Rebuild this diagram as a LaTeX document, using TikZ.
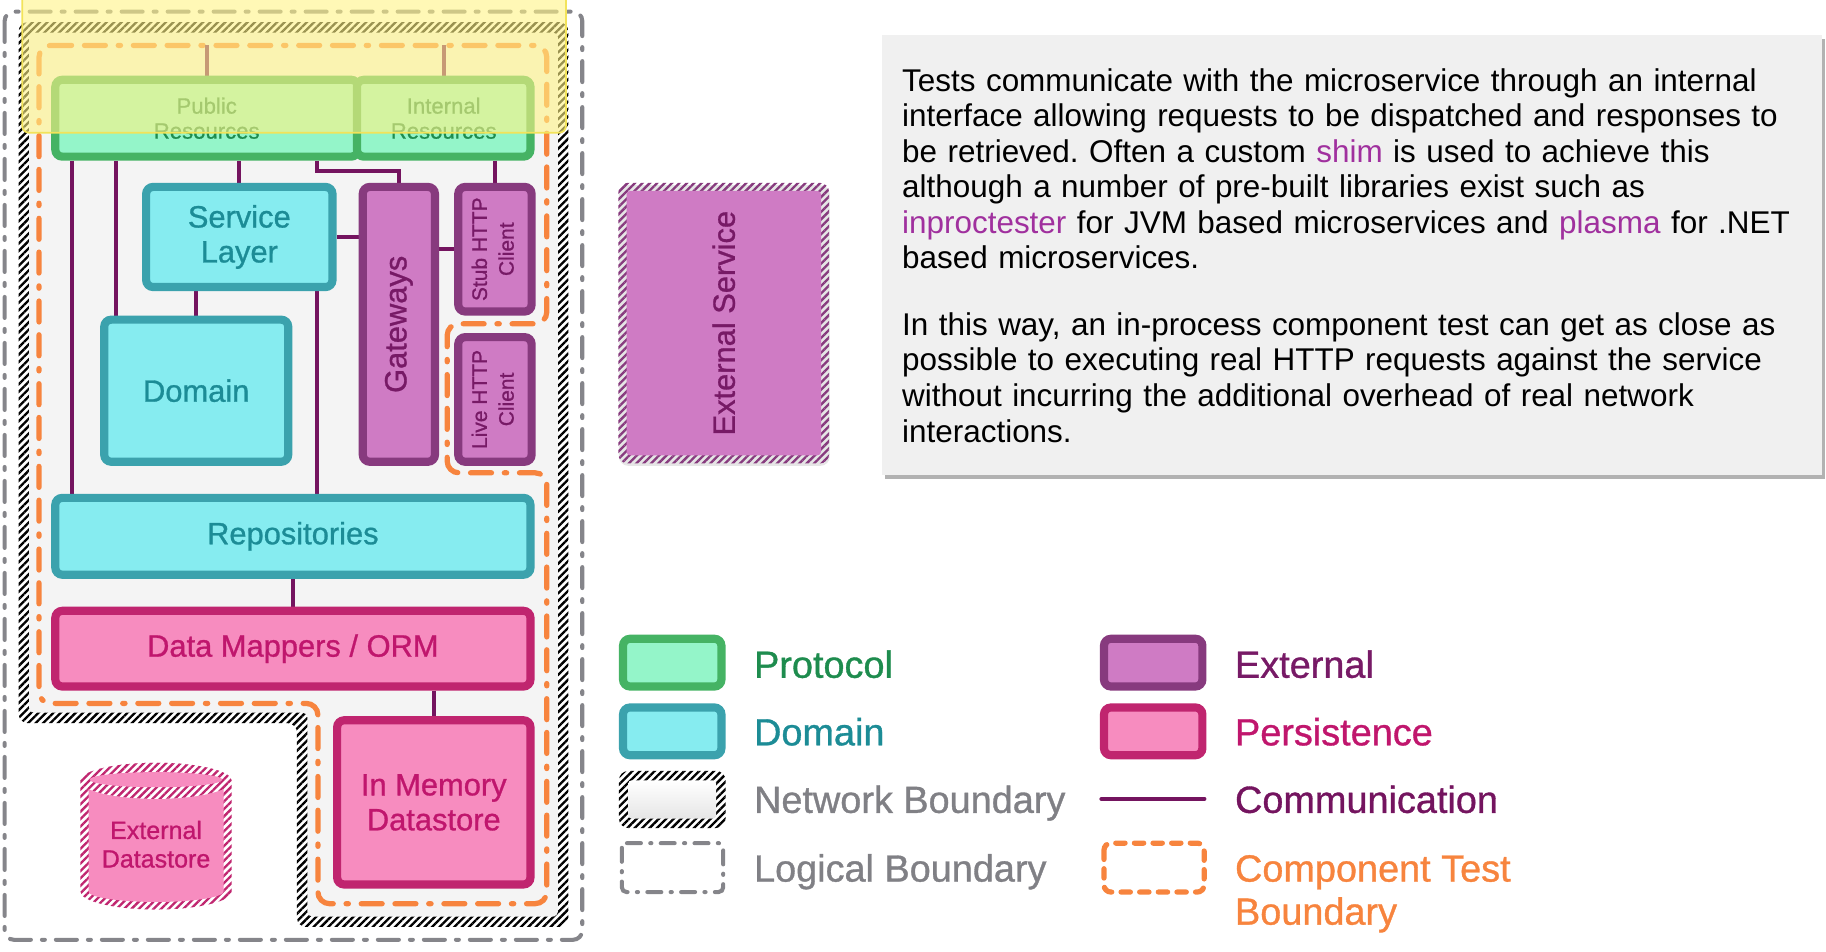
\documentclass[tikz,border=0pt]{standalone}
\usepackage{fontspec}
\usepackage{graphicx}
\setmainfont{Liberation Sans}
\newfontfamily\labelfont{Liberation Sans}[FakeBold=0.9]
\usetikzlibrary{patterns.meta,shadows}

\definecolor{protofill}{HTML}{94F5C9}
\definecolor{protoline}{HTML}{45B364}
\definecolor{prototext}{HTML}{1E8C4E}
\definecolor{domfill}{HTML}{86ECF0}
\definecolor{domline}{HTML}{3BA2AD}
\definecolor{domtext}{HTML}{1C8C96}
\definecolor{extfill}{HTML}{CF7BC4}
\definecolor{extline}{HTML}{873A7E}
\definecolor{exttext}{HTML}{771A66}
\definecolor{persfill}{HTML}{F78CBF}
\definecolor{persline}{HTML}{C0256F}
\definecolor{perstext}{HTML}{C0166D}
\definecolor{commline}{HTML}{74145F}
\definecolor{ctborange}{HTML}{F7843E}
\definecolor{logicline}{HTML}{85858A}
\definecolor{legendgray}{HTML}{808085}
\definecolor{netfill}{HTML}{F4F4F4}
\definecolor{descfill}{HTML}{F0F0F0}
\definecolor{hilite}{HTML}{A0309E}
\definecolor{hiyellow}{HTML}{FFF385}
\definecolor{hiedge}{HTML}{F2E35A}

\pgfdeclarelayer{bounds}
\pgfdeclarelayer{links}
\pgfdeclarelayer{highlight}
\pgfsetlayers{bounds,links,main,highlight}

\begin{document}
\begin{tikzpicture}[x=1pt,y=-1pt,
    comp/.style={draw, line width=7pt, rounded corners=6pt, inner sep=0pt, align=center,
      drop shadow={opacity=0.2, shadow xshift=0.5pt, shadow yshift=-2pt}},
    protobox/.style={comp, draw=protoline, fill=protofill, text=prototext,
      font=\labelfont\fontsize{19}{21.5}\selectfont},
    dombox/.style={comp, draw=domline, fill=domfill, text=domtext,
      font=\labelfont\fontsize{26.5}{30}\selectfont},
    extbox/.style={comp, draw=extline, fill=extfill, text=exttext,
      font=\labelfont\fontsize{26.5}{30}\selectfont},
    persbox/.style={comp, draw=persline, fill=persfill, text=perstext,
      font=\labelfont\fontsize{26.5}{30}\selectfont},
    comm/.style={draw=commline, line width=3.5pt},
    stripes/.style={pattern={Lines[angle=45,distance=4.5pt,line width=2pt]}, pattern color=#1},
    logical/.style={draw=logicline, line width=3.5pt, line cap=round, rounded corners=8pt,
      dash pattern=on 18pt off 9.5pt on 2.5pt off 9.5pt},
    ctb/.style={draw=ctborange, line width=4.5pt, line cap=round, rounded corners=10pt,
      dash pattern=on 18pt off 11pt on 18pt off 11pt on 2pt off 11pt},
    descbox/.style={anchor=north west, fill=descfill, minimum width=807pt, minimum height=378pt,
      text width=772pt, inner xsep=17.5pt, align=left, font=\fontsize{27}{30.5}\selectfont,
      drop shadow={opacity=0.5, shadow xshift=3pt, shadow yshift=-3pt, fill=black!60}},
    legtext/.style={anchor=base west, align=left, font=\labelfont\fontsize{32.5}{37}\selectfont},
  ]
  \useasboundingbox (0,0) rectangle (1568,817);

  % boundaries
  \begin{pgfonlayer}{bounds}
    \draw[logical] (4,10) rectangle (500,807);
    \path[stripes=black, preaction={fill=white}, rounded corners=8pt]
      (16,19) -- (488,19) -- (488,796) -- (255,796) -- (255,621) -- (16,621) -- cycle;
    \fill[netfill, rounded corners=4pt]
      (25,28) -- (479,28) -- (479,787) -- (264,787) -- (264,612) -- (25,612) -- cycle;
    \draw[ctb] (33.5,39) -- (469.5,39) -- (469.5,278) -- (384,278) -- (384,406)
      -- (469.5,406) -- (469.5,776) -- (273,776) -- (273,604) -- (33.5,604) -- cycle;
    \coordinate (ctbtop) at (0,39);
  \end{pgfonlayer}

  % components
  \node[protobox, minimum width=260pt, minimum height=66pt] (public) at (177.5,101.5) {Public\\Resources};
  \node[protobox, minimum width=149pt, minimum height=66pt] (internal) at (381,101.5) {Internal\\Resources};
  \node[dombox, minimum width=160pt, minimum height=86pt] (service) at (205.5,203.5) {Service\\Layer};
  \node[dombox, minimum width=158pt, minimum height=122pt] (domain) at (168.5,335.5) {Domain};
  \node[extbox, minimum width=62pt, minimum height=236pt] (gateways) at (342.5,278.5) {\rotatebox{90}{Gateways}};
  \node[extbox, minimum width=63pt, minimum height=107pt, font=\labelfont\fontsize{18}{23}\selectfont] (stub) at (425,214)
    {\rotatebox{90}{\begin{tabular}{@{}c@{}}Stub HTTP\\Client\end{tabular}}};
  \node[extbox, minimum width=63pt, minimum height=107pt, font=\labelfont\fontsize{18}{23}\selectfont] (live) at (425,343)
    {\rotatebox{90}{\begin{tabular}{@{}c@{}}Live HTTP\\Client\end{tabular}}};
  \node[dombox, minimum width=408pt, minimum height=66pt] (repos) at (251.5,460.5) {Repositories};
  \node[persbox, minimum width=408pt, minimum height=65pt] (mappers) at (251.5,557) {Data Mappers / ORM};
  \node[persbox, minimum width=166pt, minimum height=141pt] (inmem) at (372.5,689) {In Memory\\Datastore};

  % external datastore
  \path[stripes=persline, preaction={fill=white}]
    (69,670.5) arc[start angle=180, end angle=0, x radius=65pt, y radius=15.5pt]
    -- (199,765.5) arc[start angle=0, end angle=-180, x radius=65pt, y radius=15.5pt] -- cycle;
  \fill[persfill]
    (76,670.5) arc[start angle=180, end angle=0, x radius=58pt, y radius=9pt]
    -- (192,765.5) arc[start angle=0, end angle=-180, x radius=58pt, y radius=9pt] -- cycle;
  \path[stripes=persline, preaction={fill=white}] (134,670.5) ellipse [x radius=65pt, y radius=15.5pt];
  \fill[persfill] (134,669.5) ellipse [x radius=57pt, y radius=6.5pt];
  \node[text=perstext, align=center, font=\labelfont\fontsize{21.5}{24.5}\selectfont] (extstore) at (134,725) {External\\Datastore};

  % external service
  \path[stripes=extline, preaction={fill=white}, rounded corners=8pt,
    drop shadow={opacity=0.2, shadow xshift=0.5pt, shadow yshift=-2pt}] (531,157) rectangle (712,398);
  \node[fill=extfill, rounded corners=3pt, minimum width=167pt, minimum height=227pt,
    text=exttext, font=\labelfont\fontsize{26.5}{30}\selectfont] (extservice) at (621.5,277.5) {\rotatebox{90}{External Service}};

  % communication
  \begin{pgfonlayer}{links}
    \draw[comm] (public.north) -- (public.north |- ctbtop);
    \draw[comm] (internal.north) -- (internal.north |- ctbtop);
    \draw[comm] (public.south -| 61.5,0) -- (repos.north -| 61.5,0);
    \draw[comm] (public.south -| 100,0) -- (domain.north -| 100,0);
    \draw[comm] (public.south -| 205,0) -- (service.north -| 205,0);
    \draw[comm] (public.south -| 272,0) -- (272,147) -| (gateways.north);
    \draw[comm] (internal.south -| stub.north) -- (stub.north);
    \draw[comm] (service.east) -- (gateways.west |- service.east);
    \draw[comm] (stub.west -| gateways.east) -- (stub.west);
    \draw[comm] (service.south -| domain.north) -- (domain.north);
    \draw[comm] (service.south -| 272,0) -- (repos.north -| 272,0);
    \draw[comm] (repos.south) -- (mappers.north);
    \draw[comm] (inmem.north |- mappers.south) -- (inmem.north);
  \end{pgfonlayer}

  % description
  \node[descbox] (desc) at (757,30) {\frenchspacing Tests communicate with the microservice through an internal\\
    interface allowing requests to be dispatched and responses to\\
    be retrieved. Often a custom \textcolor{hilite}{shim} is used to achieve this\\
    although a number of pre-built libraries exist such as\\
    \textcolor{hilite}{inproctester} for JVM based microservices and \textcolor{hilite}{plasma} for .NET\\
    based microservices.\\[26.9pt]
    In this way, an in-process component test can get as close as\\
    possible to executing real HTTP requests against the service\\
    without incurring the additional overhead of real network\\
    interactions.};

  % legend
  \node[protobox, minimum width=84.5pt, minimum height=41pt] (lgproto) at (577.25,569) {};
  \node[dombox, minimum width=84.5pt, minimum height=41pt] (lgdom) at (577.25,628) {};
  \path[stripes=black, preaction={fill=white}, rounded corners=8pt] (531.5,662) rectangle (623,711);
  \path[top color=white, bottom color=black!10, rounded corners=3pt] (539.5,670) rectangle (615,703);
  \draw[logical, rounded corners=4pt, dash pattern=on 12pt off 8pt on 1pt off 8pt] (534,724) rectangle (621,766);
  \node[extbox, minimum width=84.5pt, minimum height=41pt] (lgext) at (990.25,569) {};
  \node[persbox, minimum width=84.5pt, minimum height=41pt] (lgpers) at (990.25,628) {};
  \coordinate (lgcommA) at (946,686);
  \coordinate (lgcommB) at (1034,686);
  \draw[comm, line width=4pt, line cap=round] (lgcommA) -- (lgcommB);
  \draw[ctb, rounded corners=6pt, dash pattern=on 8pt off 8pt] (948,724) rectangle (1034,766);

  \node[legtext, text=prototext] (lgprototext) at (644,582) {Protocol};
  \node[legtext, text=domtext] (lgdomtext) at (644,640) {Domain};
  \node[legtext, text=legendgray] (lgnettext) at (644,698) {Network Boundary};
  \node[legtext, text=legendgray] (lglogtext) at (644,757) {Logical Boundary};
  \node[legtext, text=exttext] (lgexttext) at (1057,582) {External};
  \node[legtext, text=perstext] (lgperstext) at (1057,640) {Persistence};
  \node[legtext, text=commline] (lgcommtext) at (1057,698) {Communication};
  \node[legtext, text=ctborange] (lgctbtext) at (1057,794) {Component Test\\Boundary};

  % highlight
  \begin{pgfonlayer}{highlight}
    \path[fill=hiyellow, fill opacity=0.6, draw=hiedge, line width=1.5pt, rounded corners=6pt]
      (19,-20) rectangle (486,114);
  \end{pgfonlayer}
\end{tikzpicture}
\end{document}
